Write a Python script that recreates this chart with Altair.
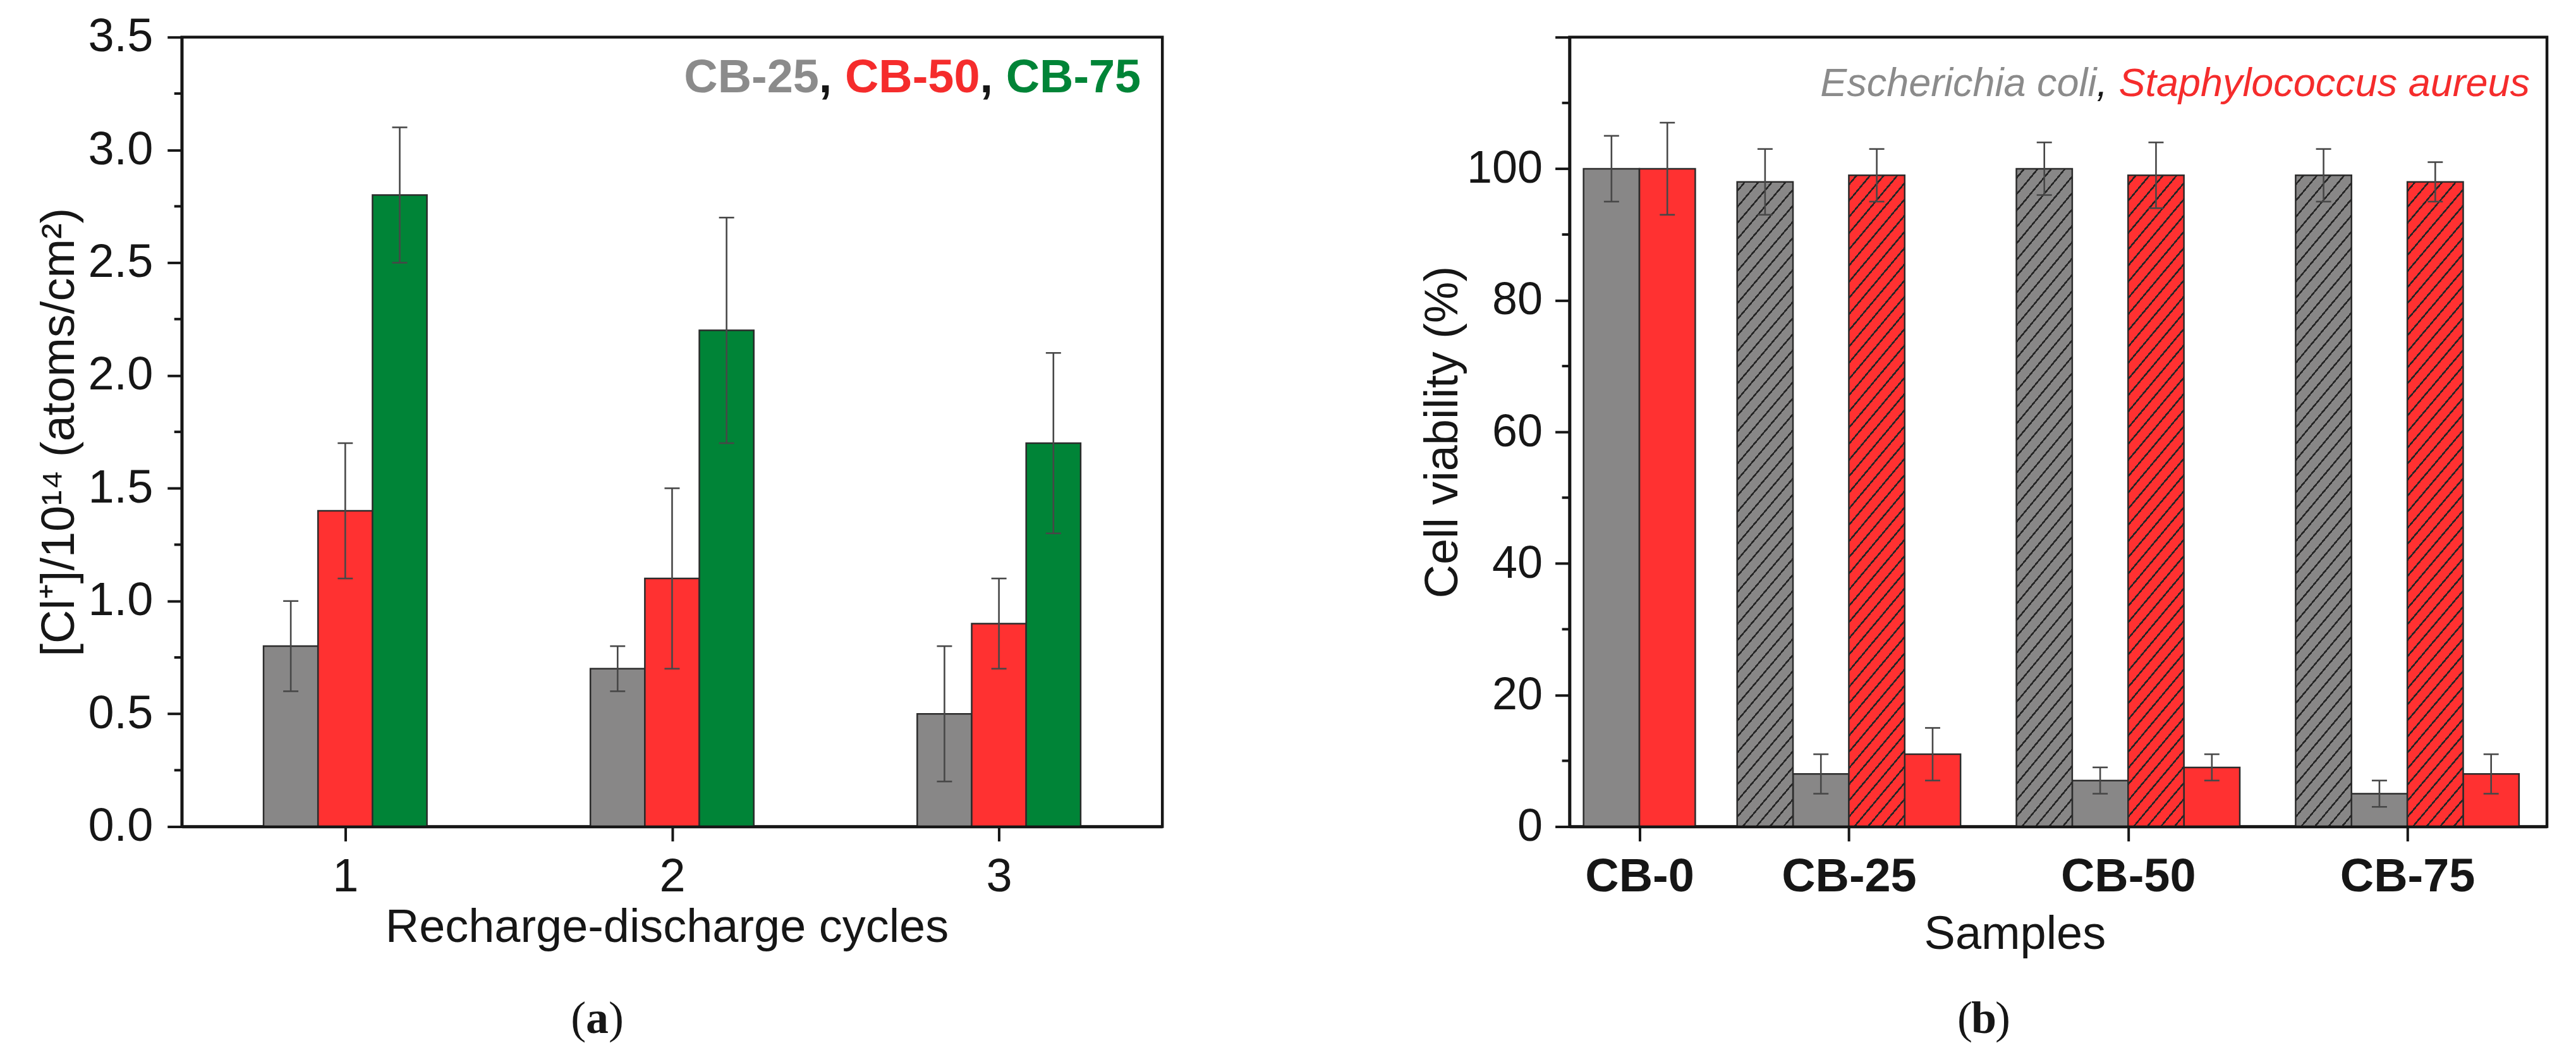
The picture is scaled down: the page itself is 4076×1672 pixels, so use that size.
import math

import altair as alt
import pandas as pd

# ------------------------------------------------------------------
# (a) Cl+ released per recharge-discharge cycle (x10^14 atoms/cm^2)
# ------------------------------------------------------------------
cycles = [1, 2, 3]
cl_series = ["CB-25", "CB-50", "CB-75"]
cl_cb25 = [0.8, 0.7, 0.5]
cl_cb25_low = [0.6, 0.6, 0.2]
cl_cb25_high = [1.0, 0.8, 0.8]
cl_cb50 = [1.4, 1.1, 0.9]
cl_cb50_low = [1.1, 0.7, 0.7]
cl_cb50_high = [1.7, 1.5, 1.1]
cl_cb75 = [2.8, 2.2, 1.7]
cl_cb75_low = [2.5, 1.7, 1.3]
cl_cb75_high = [3.1, 2.7, 2.1]
cl_ticks = [0.0, 0.5, 1.0, 1.5, 2.0, 2.5, 3.0, 3.5]
cl_minor_ticks = [0.25, 0.75, 1.25, 1.75, 2.25, 2.75, 3.25]

# ------------------------------------------------------------------
# (b) Cell viability (%) of E. coli and S. aureus per sample
# ------------------------------------------------------------------
samples = ["CB-0", "CB-25", "CB-50", "CB-75"]
species = ["Escherichia coli", "Staphylococcus aureus"]
# bars from left to right inside each sample group
bar_sample = ["CB-0", "CB-0",
              "CB-25", "CB-25", "CB-25", "CB-25",
              "CB-50", "CB-50", "CB-50", "CB-50",
              "CB-75", "CB-75", "CB-75", "CB-75"]
bar_species = ["Escherichia coli", "Staphylococcus aureus",
               "Escherichia coli", "Escherichia coli", "Staphylococcus aureus", "Staphylococcus aureus",
               "Escherichia coli", "Escherichia coli", "Staphylococcus aureus", "Staphylococcus aureus",
               "Escherichia coli", "Escherichia coli", "Staphylococcus aureus", "Staphylococcus aureus"]
bar_hatched = [False, False,
               True, False, True, False,
               True, False, True, False,
               True, False, True, False]
viability = [100, 100, 98, 8, 99, 11, 100, 7, 99, 9, 99, 5, 98, 8]
viability_low = [95, 93, 93, 5, 95, 7, 96, 5, 94, 7, 95, 3, 95, 5]
viability_high = [105, 107, 103, 11, 103, 15, 104, 9, 104, 11, 103, 7, 101, 11]
viab_ticks = [0, 20, 40, 60, 80, 100, 120]
viab_minor_ticks = [10, 30, 50, 70, 90, 110]

# ------------------------------------------------------------------
# styling / layout
# ------------------------------------------------------------------
FONT = "Liberation Sans"
SERIF = "Liberation Serif"
INK = "#161616"
GRAY = "#888787"
RED = "#ff3131"
GREEN = "#008437"
BAR_EDGE = "#2b2b2b"
ERR = "#474747"

W_A, W_B, H = 1553, 1548, 1250
BAR_A = 1 / 6                      # bar width in cycle units
GROUP_CENTER_B = [1.25, 5.0, 10.0, 15.0]
X_MAX_B = 17.5
BAR_B = 1.0
CAP_PX = 12

# Arial / Liberation Sans advance widths (1/1000 em)
ADV_BOLD = {"C": 722, "B": 722, "-": 333, "0": 556, "2": 556, "5": 556, "7": 556, ",": 278, " ": 278}
ADV_REG = {"E": 667, "S": 667, "s": 500, "c": 500, "h": 556, "e": 556, "r": 333, "i": 222, "a": 556,
           "o": 556, "l": 222, ",": 278, " ": 278, "t": 278, "p": 556, "y": 500, "u": 556}


def text_width(s, table, size):
    return sum(table[ch] for ch in s) * size / 1000


# ---- panel (a) table ----
rows = []
for si, (name, mean, lo, hi) in enumerate(zip(
        cl_series,
        [cl_cb25, cl_cb50, cl_cb75],
        [cl_cb25_low, cl_cb50_low, cl_cb75_low],
        [cl_cb25_high, cl_cb50_high, cl_cb75_high])):
    for ci, c in enumerate(cycles):
        rows.append({"series": name, "cycle": c, "value": mean[ci], "low": lo[ci], "high": hi[ci],
                     "pos": c + (si - 1) * BAR_A})
df_a = pd.DataFrame(rows)
df_a["left"] = df_a["pos"] - BAR_A / 2
df_a["right"] = df_a["pos"] + BAR_A / 2
cap_a = CAP_PX / (W_A / 3)
df_a["cap_l"] = df_a["pos"] - cap_a
df_a["cap_r"] = df_a["pos"] + cap_a
caps_a = df_a.melt(id_vars=["pos", "cap_l", "cap_r"], value_vars=["low", "high"], value_name="cap_y")
minor_a = pd.DataFrame({"minor": cl_minor_ticks})

# ---- panel (b) table ----
df_b = pd.DataFrame({"sample": bar_sample, "species": bar_species, "hatched": bar_hatched,
                     "value": viability, "low": viability_low, "high": viability_high})
pos_b = []
for s, center in zip(samples, GROUP_CENTER_B):
    n = int((df_b["sample"] == s).sum())
    pos_b += [center + (k - (n - 1) / 2) * BAR_B for k in range(n)]
df_b["pos"] = pos_b
df_b["left"] = df_b["pos"] - BAR_B / 2
df_b["right"] = df_b["pos"] + BAR_B / 2
cap_b = CAP_PX / (W_B / X_MAX_B)
df_b["cap_l"] = df_b["pos"] - cap_b
df_b["cap_r"] = df_b["pos"] + cap_b
caps_b = df_b.melt(id_vars=["pos", "cap_l", "cap_r"], value_vars=["low", "high"], value_name="cap_y")
minor_b = pd.DataFrame({"minor": viab_minor_ticks})

ONE = pd.DataFrame({"k": [0]})


def hatch_fill(base, line, w_px, h_px, angle_deg=50, gap_px=16.5, lw_px=2.6):
    """Diagonal '/' hatching built as a hard-stop linear gradient in bbox units."""
    a = math.radians(angle_deg)
    vx, vy = math.sin(a) / h_px, math.cos(a) / w_px
    lam = (vx + vy) / (vx * vx + vy * vy)
    span = w_px * math.sin(a) + h_px * math.cos(a)
    stops = [{"offset": 0, "color": base}]
    t = gap_px * 0.5 / span
    while t < 1:
        e = min(t + lw_px / span, 1)
        for off, col in ((t, base), (t, line), (e, line), (e, base)):
            stops.append({"offset": round(off, 5), "color": col})
        t += gap_px / span
    stops.append({"offset": 1, "color": base})
    return {"gradient": "linear", "x1": 0, "y1": 0,
            "x2": round(lam * vx, 5), "y2": round(lam * vy, 5), "stops": stops}


def axis_common(**kw):
    base = dict(domainColor=INK, domainWidth=4.5, tickColor=INK, tickWidth=4, tickSize=23,
                labelFont=FONT, labelFontSize=74, labelColor=INK, titleFont=FONT, titleFontSize=74,
                titleFontWeight="normal", titleColor=INK, grid=False, zindex=1, labelFlush=False,
                labelLimit=600, labelOverlap=False, titleLimit=2000)
    base.update(kw)
    return alt.Axis(**base)


def txt(text, x, y, color, size, weight="normal", style="normal", align="right", font=FONT):
    return alt.Chart(ONE).mark_text(
        font=font, fontSize=size, fontWeight=weight, fontStyle=style, color=color,
        align=align, baseline="alphabetic"
    ).encode(x=alt.value(x), y=alt.value(y), text=alt.value(text))


def caption(letter, cx, y):
    half = 500 * 72 / 1000 / 2
    return [
        txt("(", cx - half, y, INK, 72, align="right", font=SERIF),
        txt(letter, cx, y, INK, 72, weight="bold", align="center", font=SERIF),
        txt(")", cx + half, y, INK, 72, align="left", font=SERIF),
    ]


def colored_legend(parts, right_x, y, size, table, weight, style):
    """Right-aligned run of coloured words; trailing spaces are advanced, not drawn."""
    layers = []
    x = right_x
    for text, color in reversed(parts):
        shown = text.rstrip(" ")
        trail = text_width(text[len(shown):], table, size)
        layers.append(txt(shown, x - trail, y, color, size, weight=weight, style=style))
        x -= text_width(text, table, size)
    return layers


# ------------------------------------------------------------------
# panel (a)
# ------------------------------------------------------------------
sx_a = alt.Scale(domain=[0.5, 3.5], nice=False, zero=False)
sy_a = alt.Scale(domain=[0, 3.5], nice=False)
ax_xa = axis_common(values=cycles, format="d", title="Recharge-discharge cycles", labelPadding=21,
                    titleX=768, titleY=182, titleAlign="center", titleBaseline="alphabetic")
ax_ya = axis_common(values=cl_ticks, format=".1f", title="[Cl⁺]/10¹⁴ (atoms/cm²)", labelPadding=23,
                    titleX=-193, titleY=H / 2, titleAngle=270, titleAlign="center", titleBaseline="middle")


def XA(f):
    return alt.X(f, type="quantitative", scale=sx_a, axis=ax_xa)


def YA(f):
    return alt.Y(f, type="quantitative", scale=sy_a, axis=ax_ya)


bars_a = alt.Chart(df_a).mark_bar(stroke=BAR_EDGE, strokeWidth=2.5).encode(
    x=XA("left"), x2="right", y=YA("value"), y2=alt.datum(0),
    color=alt.Color("series:N", scale=alt.Scale(domain=cl_series, range=[GRAY, RED, GREEN]), legend=None),
)
err_a = alt.Chart(df_a).mark_rule(color=ERR, strokeWidth=2.6).encode(x=XA("pos"), y=YA("low"), y2="high")
caps_a_l = alt.Chart(caps_a).mark_rule(color=ERR, strokeWidth=2.6).encode(x=XA("cap_l"), x2="cap_r", y=YA("cap_y"))
minor_a_l = alt.Chart(minor_a).mark_rule(color=INK, strokeWidth=4).encode(
    y=YA("minor"), x=alt.value(0), x2=alt.value(-12))

legend_a = colored_legend([("CB-25", "#8b8b8b"), (", ", INK), ("CB-50", "#f52c2c"), (", ", INK), ("CB-75", GREEN)],
                          1519, 87, 74, ADV_BOLD, "bold", "normal")

chart_a = alt.layer(bars_a, err_a, caps_a_l, minor_a_l, *legend_a,
                    *caption("a", 658, 1577)).properties(width=W_A, height=H)

# ------------------------------------------------------------------
# panel (b)
# ------------------------------------------------------------------
sx_b = alt.Scale(domain=[0, X_MAX_B], nice=False, zero=False)
sy_b = alt.Scale(domain=[0, 120], nice=False)
cuts = [(a + b) / 2 for a, b in zip(GROUP_CENTER_B[:-1], GROUP_CENTER_B[1:])]
label_expr = "".join(f"datum.value < {c} ? '{s}' : " for c, s in zip(cuts, samples)) + f"'{samples[-1]}'"
ax_xb = axis_common(values=GROUP_CENTER_B, labelExpr=label_expr, labelFontWeight="bold", labelPadding=21,
                    title="Samples", titleX=705, titleY=193, titleAlign="center", titleBaseline="alphabetic")
ax_yb = axis_common(values=viab_ticks, labelExpr="datum.value > 100 ? '' : datum.label", labelFontSize=72,
                    labelPadding=20, title="Cell viability (%)",
                    titleX=-200, titleY=H / 2, titleAngle=270, titleAlign="center", titleBaseline="middle")


def XB(f):
    return alt.X(f, type="quantitative", scale=sx_b, axis=ax_xb)


def YB(f):
    return alt.Y(f, type="quantitative", scale=sy_b, axis=ax_yb)


solid_b = alt.Chart(df_b).transform_filter("!datum.hatched").mark_bar(stroke=BAR_EDGE, strokeWidth=2.5).encode(
    x=XB("left"), x2="right", y=YB("value"), y2=alt.datum(0),
    color=alt.Color("species:N", scale=alt.Scale(domain=species, range=[GRAY, RED]), legend=None),
)
bar_px = W_B / X_MAX_B
hatch_h = 99 / 120 * H
hatched_b = [
    alt.Chart(df_b).transform_filter(f"datum.hatched && datum.species == '{sp}'").mark_bar(
        fill=hatch_fill(col, "#262626", bar_px, hatch_h), stroke=BAR_EDGE, strokeWidth=2.5
    ).encode(x=XB("left"), x2="right", y=YB("value"), y2=alt.datum(0))
    for sp, col in zip(species, [GRAY, RED])
]
err_b = alt.Chart(df_b).mark_rule(color=ERR, strokeWidth=2.6).encode(x=XB("pos"), y=YB("low"), y2="high")
caps_b_l = alt.Chart(caps_b).mark_rule(color=ERR, strokeWidth=2.6).encode(x=XB("cap_l"), x2="cap_r", y=YB("cap_y"))
minor_b_l = alt.Chart(minor_b).mark_rule(color=INK, strokeWidth=4).encode(
    y=YB("minor"), x=alt.value(0), x2=alt.value(-12))

legend_b = colored_legend([("Escherichia coli", "#8b8b8b"), (", ", INK), ("Staphylococcus aureus", "#f52c2c")],
                          1521, 93, 63, ADV_REG, "normal", "italic")

chart_b = alt.layer(solid_b, *hatched_b, err_b, caps_b_l, minor_b_l, *legend_b,
                    *caption("b", 656, 1577)).properties(width=W_B, height=H)

chart = alt.hconcat(chart_a, chart_b, spacing=645, bounds="flush").properties(
    padding={"left": 55, "top": 18, "right": 43, "bottom": 22},
    background="white",
).configure_view(stroke=INK, strokeWidth=4.5)

chart.save("out.html", embed_options={"renderer": "svg", "actions": False})
